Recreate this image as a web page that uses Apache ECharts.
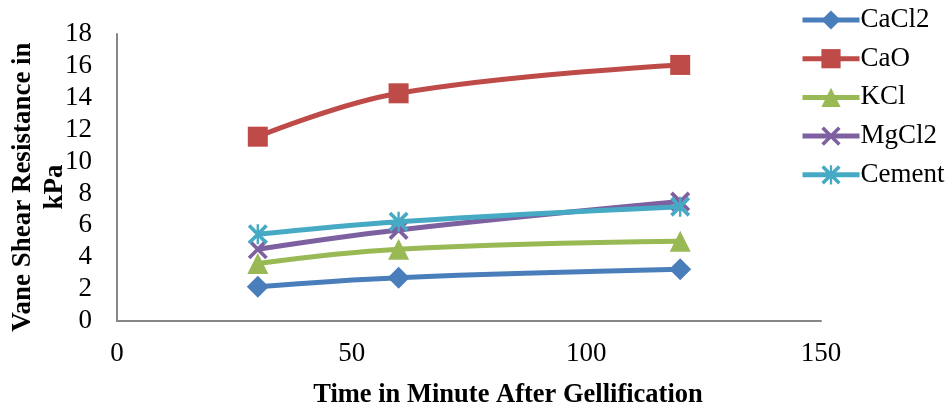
<!DOCTYPE html>
<html>
<head>
<meta charset="utf-8">
<script src="https://cdn.jsdelivr.net/npm/echarts@6/dist/echarts.min.js"></script>
<style>
html,body{margin:0;padding:0;background:#fff;}
#chart{width:952px;height:408px;}
</style>
</head>
<body>
<div id="chart"></div>
<script>
var times = [30, 60, 120];
var seriesNames = ['CaCl2', 'CaO', 'KCl', 'MgCl2', 'Cement'];
var CaCl2 = [2.15, 2.72, 3.24];
var CaO = [11.56, 14.28, 16.06];
var KCl = [3.6, 4.5, 5.0];
var MgCl2 = [4.5, 5.71, 7.49];
var Cement = [5.44, 6.23, 7.17];
var xTitle = 'Time in Minute After Gellification';
var yTitle = 'Vane Shear Resistance in\nkPa';

var colors = ['#4A7EBB', '#BE4B48', '#98B954', '#7D60A0', '#46AAC5'];
var xPath = 'path://M0,1.3L1.3,0L10,8.7L8.7,10Z M8.7,0L10,1.3L1.3,10L0,8.7Z';
var astPath = 'path://M0,1.3L1.3,0L10,8.7L8.7,10Z M8.7,0L10,1.3L1.3,10L0,8.7Z M4.4,0L5.6,0L5.6,10L4.4,10Z';
var symbols = ['diamond', 'rect', 'triangle', xPath, astPath];
var sizes = [22, 20, 21, 20, 20];
var dataSets = [CaCl2, CaO, KCl, MgCl2, Cement];

function pairs(vals){ return times.map(function(t,i){ return [t, vals[i]]; }); }

var font = '"Liberation Serif", "Times New Roman", serif';
var series = seriesNames.map(function(n, i){
  return {
    name: n, type: 'line', smooth: 0.4,
    data: pairs(dataSets[i]),
    symbol: symbols[i], symbolSize: sizes[i],
    lineStyle: {width: 5, color: colors[i]},
    itemStyle: {color: colors[i]},
    emphasis: {disabled: true},
    z: 2 + i
  };
});

var chart = echarts.init(document.getElementById('chart'), null, {renderer: 'canvas'});
chart.setOption({
  animation: false,
  textStyle: {fontFamily: font},
  grid: {left: 117, right: 131, top: 34, bottom: 87, containLabel: false, outerBoundsMode: 'none'},
  legend: {
    orient: 'vertical', left: 800, top: 6, padding: 0,
    itemWidth: 57, itemHeight: 24, itemGap: 10.7,
    data: seriesNames,
    lineStyle: {width: 5},
    textStyle: {fontFamily: font, fontSize: 27, color: '#000', lineHeight: 28, padding: [0,0,0,-4]}
  },
  graphic: [{
    type: 'text', x: 39, y: 187, rotation: Math.PI / 2,
    style: {text: yTitle, fontFamily: font, fontSize: 27, fontWeight: 'bold', fill: '#000',
            align: 'center', verticalAlign: 'middle', lineHeight: 32}
  }],
  xAxis: {
    type: 'value', min: 0, max: 150, interval: 50,
    axisLine: {lineStyle: {color: '#868686', width: 2}},
    axisTick: {show: false}, splitLine: {show: false},
    axisLabel: {fontFamily: font, fontSize: 27, color: '#000', margin: 19},
    name: xTitle, nameLocation: 'middle', nameGap: 61,
    nameTextStyle: {fontFamily: font, fontSize: 26.5, fontWeight: 'bold', color: '#000', padding: [0,0,0,78]}
  },
  yAxis: {
    type: 'value', min: 0, max: 18, interval: 2,
    axisLine: {show: true, lineStyle: {color: '#868686', width: 2}},
    axisTick: {show: false}, splitLine: {show: false},
    axisLabel: {fontFamily: font, fontSize: 27, color: '#000', margin: 25}
  },
  series: series
});
</script>
</body>
</html>
